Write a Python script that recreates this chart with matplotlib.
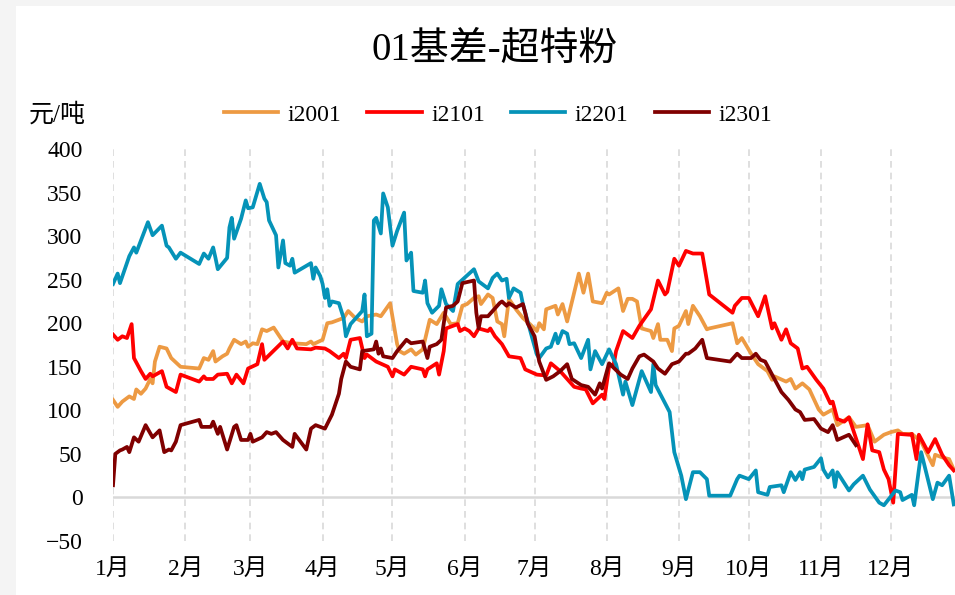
import matplotlib

matplotlib.use("Agg")
import matplotlib.pyplot as plt  # noqa: E402
from matplotlib.patches import Rectangle  # noqa: E402

plt.rcParams["font.family"] = ["Liberation Serif", "Noto Sans CJK SC"]
plt.rcParams["axes.unicode_minus"] = True

# day of year (0 = Jan 1) and basis in 元/吨 for each contract
i2001_days = [0, 2, 4, 7, 9, 10, 12, 14, 16, 17, 18, 20, 23, 25, 29, 37, 39, 41, 43, 44,
              47, 49, 50, 52, 55, 57, 58, 60, 62, 64, 66, 69, 71, 73, 77, 83, 85, 86, 90, 92,
              94, 99, 101, 104, 107, 109, 113, 115, 119, 122, 123, 125, 128, 130, 133, 136, 139, 142, 145, 148,
              150, 152, 155, 157, 158, 161, 163, 165, 167, 168, 170, 173, 176, 179, 182, 183, 185, 186, 188, 190,
              191, 193, 195, 200, 202, 204, 206, 210, 212, 213, 217, 219, 221, 223, 225, 227, 231, 232, 234, 235,
              238, 240, 241, 243, 246, 247, 249, 252, 255, 256, 266, 268, 270, 274, 277, 281, 283, 284, 289, 291,
              293, 296, 299, 303, 305, 309, 311, 316, 319, 324, 327, 331, 334, 337, 339, 343, 347, 352, 353, 356,
              359, 361]
i2001_vals = [112, 104, 110, 116, 113, 124, 119, 125, 136, 131, 156, 173, 171, 160, 150, 148, 160, 158, 168, 156,
              162, 165, 171, 181, 176, 179, 173, 177, 176, 193, 191, 195, 187, 179, 177, 176, 179, 176, 181, 200,
              201, 206, 214, 206, 202, 208, 210, 208, 223, 176, 168, 165, 170, 164, 170, 204, 199, 212, 199, 200,
              220, 222, 229, 231, 222, 233, 229, 202, 199, 185, 228, 216, 206, 199, 191, 200, 193, 216, 218, 220,
              210, 222, 202, 257, 235, 257, 225, 223, 235, 233, 240, 214, 228, 228, 225, 194, 191, 183, 199, 181,
              181, 168, 194, 197, 214, 199, 220, 208, 193, 194, 200, 177, 183, 165, 153, 145, 135, 139, 133, 136,
              125, 131, 124, 101, 95, 101, 83, 92, 81, 83, 64, 72, 75, 77, 73, 73, 64, 37, 49, 46,
              44, 32]

i2101_days = [0, 2, 4, 6, 8, 9, 12, 14, 16, 17, 21, 23, 27, 29, 37, 39, 40, 43, 45, 49,
              51, 53, 56, 58, 62, 64, 65, 73, 75, 77, 79, 85, 87, 91, 93, 97, 99, 100, 102, 106,
              108, 109, 113, 118, 120, 121, 125, 128, 133, 134, 135, 139, 140, 142, 143, 148, 149, 151, 153, 155,
              157, 161, 162, 164, 167, 170, 175, 177, 182, 186, 188, 192, 195, 198, 201, 203, 206, 208, 210, 211,
              213, 215, 216, 219, 221, 223, 226, 231, 234, 237, 238, 241, 243, 246, 249, 253, 256, 266, 267, 270,
              273, 277, 280, 283, 284, 287, 289, 291, 294, 296, 298, 302, 305, 308, 309, 311, 314, 316, 322, 324,
              326, 329, 331, 333, 335, 337, 342, 343, 345, 346, 350, 353, 356, 359, 361]
i2101_vals = [187, 181, 185, 183, 199, 160, 145, 136, 142, 139, 145, 127, 121, 141, 133, 139, 136, 136, 141, 142,
              131, 141, 131, 148, 153, 176, 158, 179, 171, 181, 171, 170, 172, 171, 168, 160, 165, 160, 181, 183,
              160, 164, 156, 150, 139, 147, 141, 150, 147, 139, 147, 154, 141, 168, 194, 199, 191, 194, 191, 185,
              194, 191, 194, 185, 176, 162, 160, 147, 141, 140, 154, 145, 136, 127, 125, 124, 108, 113, 118, 113,
              150, 153, 168, 191, 187, 183, 197, 216, 249, 233, 236, 274, 266, 283, 280, 280, 233, 212, 220, 229,
              229, 208, 231, 194, 200, 181, 193, 177, 171, 148, 150, 135, 125, 108, 110, 90, 87, 92, 44, 84,
              54, 52, 32, 21, -6, 73, 72, 73, 44, 72, 52, 67, 49, 37, 31]

i2201_days = [0, 2, 3, 7, 9, 10, 15, 17, 21, 23, 24, 27, 29, 37, 39, 41, 43, 44, 45, 49,
              50, 51, 52, 55, 57, 58, 60, 63, 65, 66, 67, 70, 71, 73, 74, 76, 77, 78, 85, 86,
              87, 89, 90, 91, 92, 93, 94, 97, 99, 100, 102, 107, 108, 109, 111, 112, 113, 115, 116, 118,
              120, 122, 125, 126, 128, 129, 133, 134, 135, 137, 140, 141, 143, 146, 148, 155, 157, 161, 163, 165,
              167, 169, 170, 172, 175, 176, 180, 182, 183, 186, 188, 190, 191, 193, 195, 196, 198, 201, 204, 205,
              207, 210, 213, 216, 219, 220, 223, 227, 231, 232, 233, 239, 241, 244, 246, 249, 252, 255, 256, 265,
              268, 269, 273, 276, 277, 281, 282, 287, 288, 291, 293, 295, 296, 297, 301, 304, 305, 307, 309, 310,
              311, 316, 318, 322, 325, 329, 331, 336, 338, 339, 343, 344, 347, 352, 354, 356, 359, 361]
i2201_vals = [245, 257, 246, 277, 287, 281, 316, 301, 312, 289, 287, 274, 281, 268, 280, 274, 287, 275, 262, 275,
              310, 321, 297, 320, 341, 332, 333, 360, 343, 339, 318, 301, 264, 295, 269, 266, 274, 258, 269, 251,
              264, 254, 245, 229, 239, 220, 225, 223, 206, 185, 199, 214, 233, 185, 188, 318, 321, 303, 349, 333,
              289, 306, 327, 272, 281, 237, 235, 249, 223, 212, 220, 239, 222, 214, 245, 262, 248, 240, 252, 257,
              249, 251, 229, 240, 235, 222, 183, 164, 160, 171, 173, 188, 177, 191, 188, 176, 177, 160, 181, 147,
              168, 153, 170, 153, 118, 133, 106, 145, 121, 153, 129, 98, 52, 25, -2, 29, 29, 21, 2, 2,
              21, 25, 21, 31, 6, 3, 12, 14, 6, 29, 20, 29, 21, 32, 35, 45, 32, 23, 31, 12,
              29, 8, 15, 25, 9, -6, -9, 8, 6, -3, 3, -9, 52, -2, 17, 14, 25, -8]

i2301_days = [0, 1, 3, 4, 6, 7, 9, 11, 14, 17, 20, 22, 24, 25, 27, 29, 37, 38, 42, 43,
              45, 46, 49, 52, 53, 55, 58, 59, 60, 64, 66, 68, 70, 73, 77, 78, 83, 85, 87, 91,
              94, 97, 98, 100, 102, 106, 107, 112, 113, 114, 115, 116, 120, 122, 126, 128, 133, 135, 136, 139,
              141, 143, 146, 148, 150, 155, 156, 157, 158, 161, 163, 166, 167, 169, 170, 173, 176, 177, 178, 181,
              183, 186, 189, 192, 195, 197, 201, 204, 207, 209, 210, 213, 218, 221, 223, 226, 228, 232, 234, 237,
              240, 243, 246, 247, 250, 253, 255, 265, 268, 270, 274, 276, 278, 280, 284, 287, 290, 293, 295, 297,
              301, 304, 307, 309, 310, 311, 316, 318, 319]
i2301_vals = [14, 50, 54, 55, 58, 52, 69, 64, 83, 69, 77, 52, 55, 54, 64, 83, 89, 81, 81, 87,
              73, 81, 55, 81, 83, 66, 66, 73, 64, 69, 75, 73, 75, 66, 58, 73, 55, 79, 83, 79,
              95, 119, 136, 156, 150, 147, 168, 170, 179, 165, 171, 162, 160, 168, 181, 177, 179, 160, 173, 176,
              181, 218, 220, 225, 246, 249, 212, 194, 208, 208, 214, 223, 225, 220, 223, 218, 222, 212, 200, 185,
              156, 135, 139, 145, 153, 136, 129, 127, 118, 131, 125, 154, 141, 136, 148, 162, 164, 156, 148, 142,
              153, 156, 165, 165, 171, 181, 160, 156, 165, 160, 160, 165, 158, 156, 136, 121, 112, 101, 98, 89,
              90, 79, 75, 83, 75, 66, 72, 64, 60]

month_starts = [0, 31, 59, 90, 120, 151, 181, 212, 243, 273, 304, 334]
month_labels = ["1月", "2月", "3月", "4月", "5月", "6月", "7月", "8月", "9月", "10月", "11月", "12月"]

series = [
    ("i2001", i2001_days, i2001_vals, "#ED9A43"),
    ("i2101", i2101_days, i2101_vals, "#FF0000"),
    ("i2201", i2201_days, i2201_vals, "#0593B8"),
    ("i2301", i2301_days, i2301_vals, "#800000"),
]

W, H = 955, 595
fig = plt.figure(figsize=(W / 100, H / 100), dpi=100, facecolor="#F4F4F4")
fig.patches.append(Rectangle((16 / W, 0), 1, 1 - 6 / H, transform=fig.transFigure,
                             facecolor="white", edgecolor="none", zorder=-1))

ax = fig.add_axes([113 / W, (H - 541) / H, (W - 113) / W, (541 - 149) / H])
ax.set_facecolor("white")

handles = []
for name, days, vals, color in series:
    (ln,) = ax.plot(days, vals, color=color, lw=2.7, label=name, solid_joinstyle="round")
    handles.append(ln)

ax.axhline(0, color="#D9D9D9", lw=1.8, zorder=1)
ax.set_xlim(0, (W - 113) / 2.329)
ax.set_ylim(-50, 400)
ax.set_yticks(range(-50, 401, 50))
ax.set_xticks(month_starts)
ax.set_xticklabels(month_labels)
ax.xaxis.grid(True, linestyle=(0, (4, 3)), color="#D9D9D9", lw=1.2)
ax.set_axisbelow(True)
for sp in ax.spines.values():
    sp.set_visible(False)
ax.tick_params(axis="y", length=0, pad=22, labelsize=17)
ax.tick_params(axis="x", length=0, pad=13, labelsize=17)

fig.text(495 / W, 1 - 50 / H, "01基差-超特粉", ha="center", va="center", fontsize=28)
fig.text(29 / W, 1 - 115 / H, "元/吨", ha="left", va="center", fontsize=18)
fig.legend(handles=handles, loc="center", bbox_to_anchor=(498 / W, 1 - 115 / H), ncol=4,
           frameon=False, fontsize=17, handlelength=2.3, handletextpad=0.4, columnspacing=1.1)

fig.savefig("out.png", dpi=100, facecolor=fig.get_facecolor())
plt.close(fig)
